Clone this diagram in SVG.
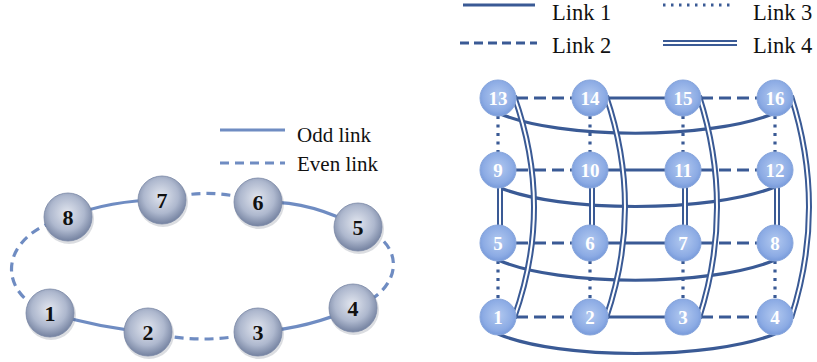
<svg xmlns="http://www.w3.org/2000/svg" width="817" height="362" viewBox="0 0 817 362">
<defs>
<radialGradient id="gL" cx="48%" cy="42%" r="60%">
<stop offset="0" stop-color="#e2e6ef"/>
<stop offset="0.6" stop-color="#aeb8ce"/>
<stop offset="1" stop-color="#6f7d9c"/>
</radialGradient>
<radialGradient id="gR" cx="50%" cy="45%" r="60%">
<stop offset="0" stop-color="#b2c9f0"/>
<stop offset="0.7" stop-color="#8cabe4"/>
<stop offset="1" stop-color="#6f93d6"/>
</radialGradient>
<style>
.ring{fill:none;stroke:#6f8cc2;stroke-width:3.2;stroke-linecap:butt}
.rdash{stroke-dasharray:9 6}
.g{fill:none;stroke:#3a5a95;stroke-width:3.2}
.gdash{stroke-dasharray:12 6}
.gdot{stroke-dasharray:3 5.5}
.dblo{fill:none;stroke:#3a5a95;stroke-width:6}
.dbli{fill:none;stroke:#ffffff;stroke-width:2}
.nl{fill:url(#gL);stroke:#7a88a6;stroke-width:0.8}
.nr{fill:url(#gR);stroke:#88a6dc;stroke-width:1}
.sh{fill:#1e2a44;opacity:0.16}
.tl{font-family:"Liberation Serif",serif;font-size:22px;font-weight:bold;fill:#111;text-anchor:middle}
.tr{font-family:"Liberation Serif",serif;font-size:19px;font-weight:bold;fill:#ffffff;text-anchor:middle}
.leg{font-family:"Liberation Serif",serif;fill:#111}
</style>
</defs>
<rect width="817" height="362" fill="#ffffff"/>

<!-- Left legend -->
<g id="legend-left">
<line x1="220" y1="130" x2="285" y2="130" class="ring" stroke-width="4"/>
<line x1="220" y1="163" x2="285" y2="163" class="ring rdash" stroke-width="4" stroke-dasharray="8 5"/>
<text x="297" y="142" class="leg" font-size="21">Odd link</text>
<text x="297" y="171" class="leg" font-size="21">Even link</text>
</g>

<!-- Right legend -->
<g id="legend-right">
<line x1="463" y1="5" x2="535" y2="5" class="g" stroke-width="4"/>
<line x1="460" y1="43" x2="537" y2="43" class="g" stroke-width="4" stroke-dasharray="9 5"/>
<line x1="663" y1="5" x2="732" y2="5" class="g" stroke-width="2.5" stroke-dasharray="2.5 5.5"/>
<line x1="663" y1="43" x2="737" y2="43" class="dblo" stroke-width="5.5"/>
<line x1="663" y1="43" x2="737" y2="43" class="dbli" stroke-width="2"/>
<text x="552" y="20" class="leg" font-size="22.5">Link 1</text>
<text x="753" y="20" class="leg" font-size="22.5">Link 3</text>
<text x="552" y="53" class="leg" font-size="22.5">Link 2</text>
<text x="753" y="53" class="leg" font-size="22.5">Link 4</text>
</g>

<!-- Ring connectors -->
<g id="ring-connectors">
<path class="ring" d="M68 217 Q110 200 162 200"/>
<path class="ring rdash" d="M162 200 Q210 186 258 202"/>
<path class="ring" d="M258 202 Q310 200 358 227"/>
<path class="ring rdash" d="M358 227 C406 240 406 290 353 308"/>
<path class="ring" d="M353 308 Q310 328 258 332"/>
<path class="ring rdash" d="M258 332 Q203 346 148 332"/>
<path class="ring" d="M148 332 Q100 328 50 313"/>
<path class="ring rdash" d="M50 313 C-4 295 -4 235 68 217"/>
</g>

<!-- Grid connectors -->
<g id="grid-connectors">
<line class="g gdash" x1="498" y1="98" x2="590" y2="98"/>
<line class="g" x1="590" y1="98" x2="683" y2="98"/>
<line class="g gdash" x1="683" y1="98" x2="775" y2="98"/>
<line class="g gdash" x1="498" y1="170" x2="590" y2="170"/>
<line class="g" x1="590" y1="170" x2="683" y2="170"/>
<line class="g gdash" x1="683" y1="170" x2="775" y2="170"/>
<line class="g gdash" x1="498" y1="243" x2="590" y2="243"/>
<line class="g" x1="590" y1="243" x2="683" y2="243"/>
<line class="g gdash" x1="683" y1="243" x2="775" y2="243"/>
<line class="g gdash" x1="498" y1="317" x2="590" y2="317"/>
<line class="g" x1="590" y1="317" x2="683" y2="317"/>
<line class="g gdash" x1="683" y1="317" x2="775" y2="317"/>
<line class="g gdot" x1="498" y1="116" x2="498" y2="152"/>
<line class="g gdot" x1="590" y1="116" x2="590" y2="152"/>
<line class="g gdot" x1="683" y1="116" x2="683" y2="152"/>
<line class="g gdot" x1="775" y1="116" x2="775" y2="152"/>
<line class="g gdot" x1="498" y1="261" x2="498" y2="299"/>
<line class="g gdot" x1="590" y1="261" x2="590" y2="299"/>
<line class="g gdot" x1="683" y1="261" x2="683" y2="299"/>
<line class="g gdot" x1="775" y1="261" x2="775" y2="299"/>
<path class="g" d="M498 113 C560 140 710 140 775 113"/>
<path class="g" d="M498 187 C560 213 710 213 775 187"/>
<path class="g" d="M498 260 C560 287 710 287 775 260"/>
<path class="g" d="M498 334 C560 360 710 360 775 334"/>
<g>
<line class="dblo" x1="500" y1="170" x2="500" y2="243"/>
<line class="dblo" x1="592" y1="170" x2="592" y2="243"/>
<line class="dblo" x1="685" y1="170" x2="685" y2="243"/>
<line class="dblo" x1="777" y1="170" x2="777" y2="243"/>
<line class="dbli" x1="500" y1="170" x2="500" y2="243"/>
<line class="dbli" x1="592" y1="170" x2="592" y2="243"/>
<line class="dbli" x1="685" y1="170" x2="685" y2="243"/>
<line class="dbli" x1="777" y1="170" x2="777" y2="243"/>
</g>
<g>
<path class="dblo" d="M514 96 Q554 207 514 318"/>
<path class="dblo" d="M606 96 Q644 207 606 318"/>
<path class="dblo" d="M699 96 Q735 207 699 318"/>
<path class="dblo" d="M791 96 Q827 207 791 318"/>
<path class="dbli" d="M514 96 Q554 207 514 318"/>
<path class="dbli" d="M606 96 Q644 207 606 318"/>
<path class="dbli" d="M699 96 Q735 207 699 318"/>
<path class="dbli" d="M791 96 Q827 207 791 318"/>
</g>
</g>

<!-- Ring nodes -->
<g id="r1"><circle class="sh" cx="51" cy="315" r="25"/><circle class="nl" cx="50" cy="313" r="24"/><text class="tl" x="50" y="320.5">1</text></g>
<g id="r2"><circle class="sh" cx="149" cy="334" r="25"/><circle class="nl" cx="148" cy="332" r="24"/><text class="tl" x="148" y="339.5">2</text></g>
<g id="r3"><circle class="sh" cx="259" cy="334" r="25"/><circle class="nl" cx="258" cy="332" r="24"/><text class="tl" x="258" y="339.5">3</text></g>
<g id="r4"><circle class="sh" cx="354" cy="310" r="25"/><circle class="nl" cx="353" cy="308" r="24"/><text class="tl" x="353" y="315.5">4</text></g>
<g id="r5"><circle class="sh" cx="359" cy="229" r="25"/><circle class="nl" cx="358" cy="227" r="24"/><text class="tl" x="358" y="234.5">5</text></g>
<g id="r6"><circle class="sh" cx="259" cy="204" r="25"/><circle class="nl" cx="258" cy="202" r="24"/><text class="tl" x="258" y="209.5">6</text></g>
<g id="r7"><circle class="sh" cx="163" cy="202" r="25"/><circle class="nl" cx="162" cy="200" r="24"/><text class="tl" x="162" y="207.5">7</text></g>
<g id="r8"><circle class="sh" cx="69" cy="219" r="25"/><circle class="nl" cx="68" cy="217" r="24"/><text class="tl" x="68" y="224.5">8</text></g>

<!-- Grid nodes -->
<g id="g1"><circle class="nr" cx="498" cy="317" r="18"/><text class="tr" x="498" y="323.5">1</text></g>
<g id="g2"><circle class="nr" cx="590" cy="317" r="18"/><text class="tr" x="590" y="323.5">2</text></g>
<g id="g3"><circle class="nr" cx="683" cy="317" r="18"/><text class="tr" x="683" y="323.5">3</text></g>
<g id="g4"><circle class="nr" cx="775" cy="317" r="18"/><text class="tr" x="775" y="323.5">4</text></g>
<g id="g5"><circle class="nr" cx="498" cy="243" r="18"/><text class="tr" x="498" y="249.5">5</text></g>
<g id="g6"><circle class="nr" cx="590" cy="243" r="18"/><text class="tr" x="590" y="249.5">6</text></g>
<g id="g7"><circle class="nr" cx="683" cy="243" r="18"/><text class="tr" x="683" y="249.5">7</text></g>
<g id="g8"><circle class="nr" cx="775" cy="243" r="18"/><text class="tr" x="775" y="249.5">8</text></g>
<g id="g9"><circle class="nr" cx="498" cy="170" r="18"/><text class="tr" x="498" y="176.5">9</text></g>
<g id="g10"><circle class="nr" cx="590" cy="170" r="18"/><text class="tr" x="590" y="176.5">10</text></g>
<g id="g11"><circle class="nr" cx="683" cy="170" r="18"/><text class="tr" x="683" y="176.5">11</text></g>
<g id="g12"><circle class="nr" cx="775" cy="170" r="18"/><text class="tr" x="775" y="176.5">12</text></g>
<g id="g13"><circle class="nr" cx="498" cy="98" r="18"/><text class="tr" x="498" y="104.5">13</text></g>
<g id="g14"><circle class="nr" cx="590" cy="98" r="18"/><text class="tr" x="590" y="104.5">14</text></g>
<g id="g15"><circle class="nr" cx="683" cy="98" r="18"/><text class="tr" x="683" y="104.5">15</text></g>
<g id="g16"><circle class="nr" cx="775" cy="98" r="18"/><text class="tr" x="775" y="104.5">16</text></g>
</svg>
